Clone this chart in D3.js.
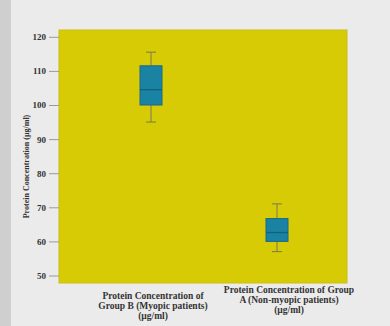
<!DOCTYPE html>
<html><head><meta charset="utf-8">
<script src="https://cdn.jsdelivr.net/npm/d3@7"></script>
<style>body{margin:0;background:#ebebeb;}svg{display:block;}</style>
</head><body>
<script>
const categories = ["Group B", "Group A"];
const labelLines = [
  ["Protein Concentration of", "Group B (Myopic patients)", "(µg/ml)"],
  ["Protein Concentration of Group", "A (Non-myopic patients)", "(µg/ml)"]
];
const whiskerLow = [95, 57];
const q1 = [100, 60];
const median = [104.5, 62.6];
const q3 = [111.5, 66.7];
const whiskerHigh = [115.5, 71];
const yTicks = [50, 60, 70, 80, 90, 100, 110, 120];
const yTitle = "Protein Concentration (µg/ml)";

const W = 390, H = 326;
const svg = d3.select("body").append("svg").attr("width", W).attr("height", H);
svg.append("rect").attr("width", W).attr("height", H).attr("fill", "#ebebeb");
svg.append("rect").attr("width", 11).attr("height", H).attr("fill", "#cfcfcf");

const plot = {l: 59, r: 347, t: 30, b: 283};
const y = d3.scaleLinear().domain([47.8, 122]).range([plot.b, plot.t]);
const x = d3.scalePoint().domain(categories).range([151, 277]);

svg.append("rect").attr("x", plot.l).attr("y", plot.t)
  .attr("width", plot.r - plot.l).attr("height", plot.b - plot.t)
  .attr("fill", "#d6cb05").attr("stroke", "#c9bf10");

const yAxis = svg.append("g").attr("transform", `translate(${plot.l},0)`)
  .call(d3.axisLeft(y).tickValues(yTicks).tickSize(10).tickPadding(3));
yAxis.select(".domain").remove();
yAxis.selectAll(".tick line").attr("stroke", "#9a9a9a");
yAxis.selectAll(".tick text").attr("font-family", "Liberation Serif")
  .attr("font-weight", "bold").attr("font-size", 9).attr("fill", "#333");

svg.append("text").attr("transform", `translate(29,${(plot.t + plot.b) / 2 + 10}) rotate(-90)`)
  .attr("text-anchor", "middle").attr("font-family", "Liberation Serif")
  .attr("font-weight", "bold").attr("font-size", 8).attr("fill", "#333").text(yTitle);

const bw = 22, cap = 10;
categories.forEach((c, i) => {
  const cx = x(c);
  const g = svg.append("g");
  g.append("line").attr("x1", cx).attr("x2", cx).attr("y1", y(whiskerHigh[i])).attr("y2", y(q3[i]))
    .attr("stroke", "#7a7a50").attr("stroke-width", 1);
  g.append("line").attr("x1", cx).attr("x2", cx).attr("y1", y(q1[i])).attr("y2", y(whiskerLow[i]))
    .attr("stroke", "#7a7a50").attr("stroke-width", 1);
  [whiskerHigh[i], whiskerLow[i]].forEach(v => {
    g.append("line").attr("x1", cx - cap / 2).attr("x2", cx + cap / 2).attr("y1", y(v)).attr("y2", y(v))
      .attr("stroke", "#7a7a50").attr("stroke-width", 1);
  });
  g.append("rect").attr("x", cx - bw / 2).attr("y", y(q3[i])).attr("width", bw)
    .attr("height", y(q1[i]) - y(q3[i])).attr("fill", "#1a82a3").attr("stroke", "#1a6a88");
  g.append("line").attr("x1", cx - bw / 2).attr("x2", cx + bw / 2).attr("y1", y(median[i])).attr("y2", y(median[i]))
    .attr("stroke", "#175f7a").attr("stroke-width", 1.2);
});

const labelX = [153, 289];
const labelY = [299, 293];
categories.forEach((c, i) => {
  const t = svg.append("text").attr("text-anchor", "middle").attr("font-family", "Liberation Serif")
    .attr("font-weight", "bold").attr("font-size", 9.5).attr("fill", "#333");
  labelLines[i].forEach((ln, k) => {
    t.append("tspan").attr("x", labelX[i]).attr("y", labelY[i] + k * 10).text(ln);
  });
});
</script>
</body></html>
